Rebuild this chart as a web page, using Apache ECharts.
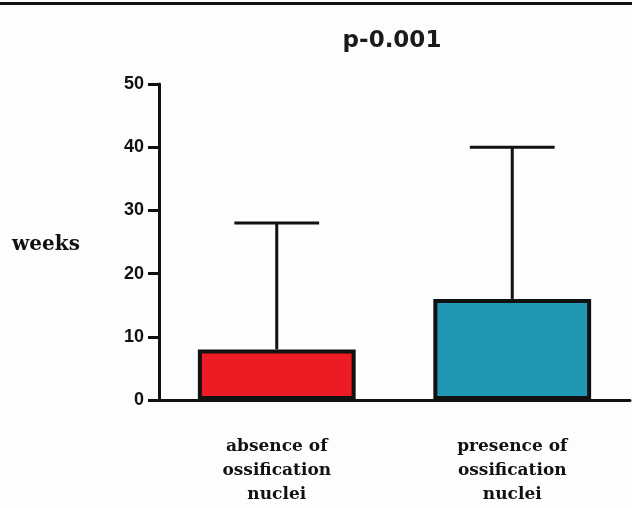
<!DOCTYPE html>
<html>
<head>
<meta charset="utf-8">
<script src="https://cdn.jsdelivr.net/npm/echarts@6/dist/echarts.min.js"></script>
<style>
  html, body { margin: 0; padding: 0; background: #fcfdff; }
  #chart { width: 632px; height: 508px; }
</style>
</head>
<body>
<div id="chart"></div>
<script>
// Groups, mean time (weeks) and upper whisker value per group
const categories = ['absence of\nossification\nnuclei', 'presence of\nossification\nnuclei'];
const meanWeeks = [8, 16];
const upperWeeks = [28, 40];
const barColors = ['#ed1c24', '#2198b3'];
const yTicks = { min: 0, max: 50, interval: 10 };

const chart = echarts.init(document.getElementById('chart'));

const errorData = meanWeeks.map((m, i) => [i, m, upperWeeks[i]]);

chart.setOption({
  backgroundColor: '#fcfdff',
  animation: false,
  grid: { left: 159, right: 2, top: 84, bottom: 108 },
  graphic: [
    { type: 'rect', shape: { x: 0, y: 2, width: 632, height: 3 }, style: { fill: '#111' } },
    {
      type: 'text', x: 392, y: 41,
      style: { text: 'p-0.001', font: 'bold 23px "DejaVu Sans"', fill: '#1a1a1a', align: 'center', verticalAlign: 'middle' }
    },
    {
      type: 'text', x: 46, y: 245,
      style: { text: 'weeks', font: 'bold 20px "DejaVu Serif"', fill: '#111', align: 'center', verticalAlign: 'middle' }
    }
  ],
  xAxis: {
    type: 'category',
    data: categories,
    boundaryGap: true,
    axisLine: { lineStyle: { color: '#111', width: 3 } },
    axisTick: { alignWithLabel: true, length: 8, lineStyle: { color: '#111', width: 2 } },
    axisLabel: {
      margin: 35,
      color: '#111',
      fontFamily: 'DejaVu Serif',
      fontWeight: 'bold',
      fontSize: 17,
      lineHeight: 24
    }
  },
  yAxis: {
    type: 'value',
    min: yTicks.min,
    max: yTicks.max,
    interval: yTicks.interval,
    splitLine: { show: false },
    axisLine: { show: true, lineStyle: { color: '#111', width: 3 } },
    axisTick: { show: true, length: 11, lineStyle: { color: '#111', width: 3 } },
    axisLabel: {
      margin: 15,
      color: '#111',
      fontFamily: 'Liberation Sans',
      fontWeight: 'bold',
      fontSize: 18
    }
  },
  series: [
    {
      type: 'bar',
      barWidth: '67%',
      data: meanWeeks.map((v, i) => ({
        value: v,
        itemStyle: { color: barColors[i], borderColor: '#111', borderWidth: 4 }
      })),
      z: 2
    },
    {
      type: 'custom',
      data: errorData,
      z: 3,
      renderItem: function (params, api) {
        const idx = api.value(0);
        const base = api.coord([idx, api.value(1)]);
        const top = api.coord([idx, api.value(2)]);
        const half = api.size([1, 0])[0] * 0.18;
        const style = { stroke: '#111', lineWidth: 3, fill: null };
        return {
          type: 'group',
          children: [
            { type: 'line', shape: { x1: base[0], y1: base[1], x2: top[0], y2: top[1] }, style },
            { type: 'line', shape: { x1: top[0] - half, y1: top[1], x2: top[0] + half, y2: top[1] }, style }
          ]
        };
      }
    }
  ]
});
</script>
</body>
</html>
